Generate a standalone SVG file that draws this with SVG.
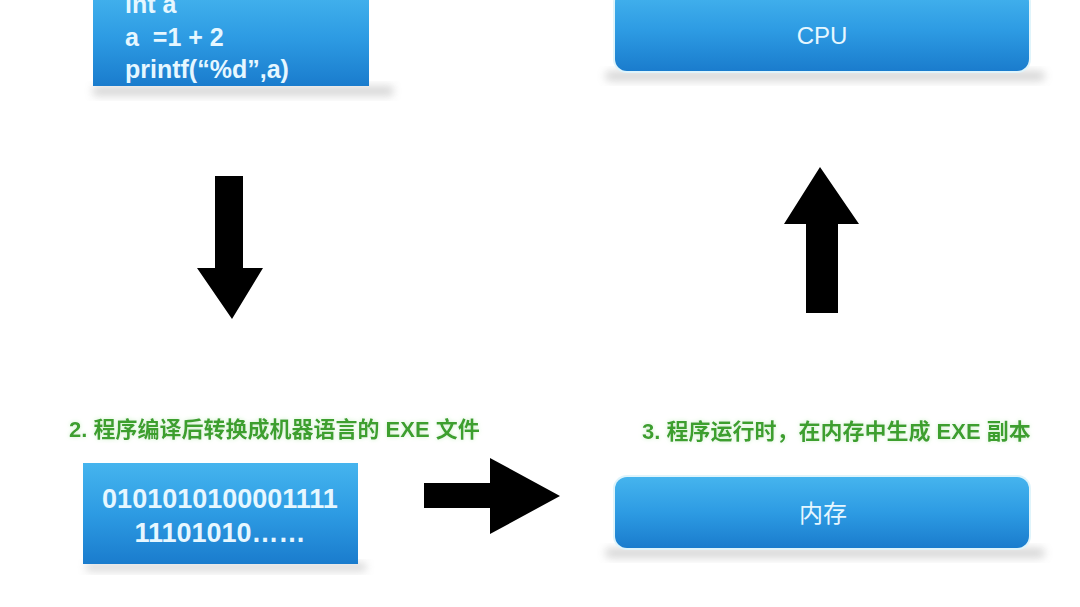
<svg xmlns="http://www.w3.org/2000/svg" width="1080" height="607" viewBox="0 0 1080 607">
<defs>
<linearGradient id="blue" x1="0" y1="0" x2="0" y2="1">
<stop offset="0" stop-color="#45b4ee"/>
<stop offset="0.5" stop-color="#2d9be3"/>
<stop offset="1" stop-color="#1a7ccd"/>
</linearGradient>
<filter id="shadow" x="-10%" y="-50%" width="120%" height="200%">
<feGaussianBlur stdDeviation="4"/>
</filter>
<filter id="glow" x="-5%" y="-30%" width="110%" height="160%">
<feGaussianBlur in="SourceAlpha" stdDeviation="2" result="b"/>
<feFlood flood-color="#c8f0c0" flood-opacity="0.9"/>
<feComposite in2="b" operator="in" result="g"/>
<feMerge><feMergeNode in="g"/><feMergeNode in="SourceGraphic"/></feMerge>
</filter>
</defs>
<style>
.box{fill:url(#blue);}
.shd{fill:#9a9a9a;opacity:0.4;filter:url(#shadow);}
.code{font-family:"Liberation Sans",Arial,sans-serif;font-weight:bold;font-size:25px;fill:#e6f7ff;}
.bin{font-family:"Liberation Sans",Arial,sans-serif;font-weight:bold;font-size:27px;fill:#e6f7ff;text-anchor:middle;}
.lbl{font-family:"Liberation Sans","Noto Sans CJK SC",sans-serif;font-size:24px;fill:#e6f7ff;text-anchor:middle;}
.step{font-family:"Liberation Sans","Noto Sans CJK SC",sans-serif;font-weight:bold;font-size:22px;fill:#3c9f2f;filter:url(#glow);}
.arrow{fill:#000;}
</style>
<rect width="1080" height="607" fill="#ffffff"/>

<g id="source-code">
<rect class="shd" x="93" y="86" width="300" height="10"/>
<rect class="box" x="93" y="-10" width="276" height="96"/>
<text class="code" x="125" y="13">int a</text>
<text class="code" x="125" y="46" xml:space="preserve">a  =1 + 2</text>
<text class="code" x="125" y="78">printf(“%d”,a)</text>
</g>

<g id="exe-file">
<text class="step" x="69" y="437">2. 程序编译后转换成机器语言的 EXE 文件</text>
<rect class="shd" x="86" y="563" width="280" height="8"/>
<rect class="box" x="83" y="463" width="275" height="101"/>
<text class="bin" x="220" y="508">0101010100001111</text>
<text class="bin" x="220" y="542">11101010……</text>
</g>

<g id="memory">
<text class="step" x="642" y="439">3. 程序运行时，在内存中生成 EXE 副本</text>
<rect class="shd" x="605" y="548" width="440" height="10" rx="5"/>
<rect x="613" y="475" width="418" height="75" rx="14" fill="#dff4fb"/>
<rect class="box" x="615" y="477" width="414" height="71" rx="12"/>
<text class="lbl" x="823" y="522">内存</text>
</g>

<g id="cpu">
<rect class="shd" x="605" y="71" width="440" height="10" rx="5"/>
<rect x="613" y="-12" width="418" height="85" rx="14" fill="#dff4fb"/>
<rect class="box" x="615" y="-10" width="414" height="81" rx="12"/>
<text class="lbl" x="822" y="44">CPU</text>
</g>

<g id="connectors">
<polygon class="arrow" points="215,176 243,176 243,268 263,268 232,319 197,268 215,268"/>
<polygon class="arrow" points="424,483 490,483 490,458 560,496 490,534 490,508 424,508"/>
<polygon class="arrow" points="806,313 838,313 838,224 859,224 820,167 784,224 806,224"/>
</g>
</svg>
